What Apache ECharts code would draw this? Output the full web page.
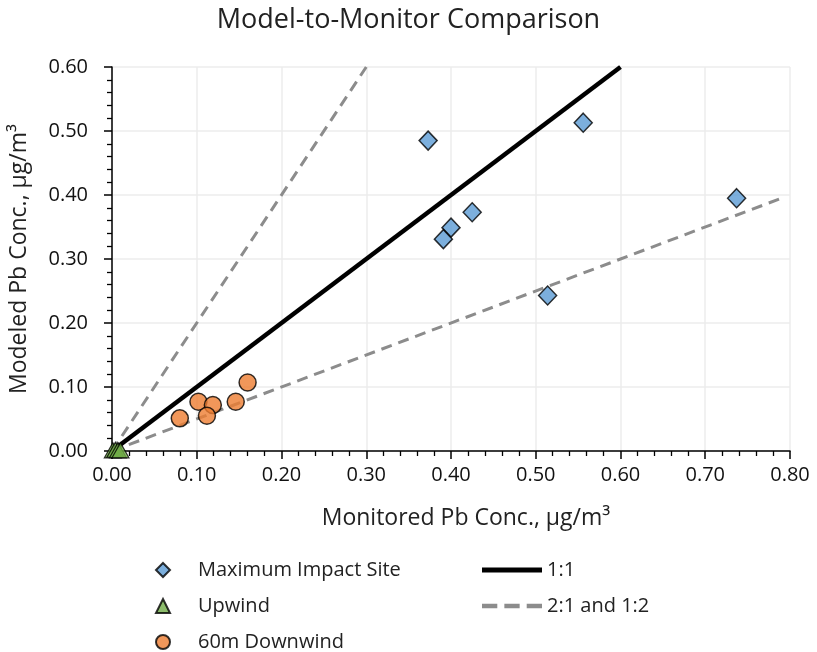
<!DOCTYPE html>
<html>
<head>
<meta charset="utf-8">
<script src="https://cdn.jsdelivr.net/npm/echarts@6/dist/echarts.min.js"></script>
<style>
  html, body { margin: 0; padding: 0; background: #fff; }
  #chart { width: 817px; height: 652px; }
</style>
</head>
<body>
<div id="chart"></div>
<script>
// monitored (x) vs modeled (y), ug/m3
var maxImpact = [[0.373, 0.485], [0.556, 0.513], [0.425, 0.373], [0.400, 0.349],
                 [0.391, 0.331], [0.514, 0.243], [0.737, 0.395]];
var upwind = [[0.001, 0.001], [0.004, 0.002], [0.007, 0.001], [0.010, 0.001]];
var downwind60 = [[0.080, 0.051], [0.102, 0.077], [0.119, 0.072], [0.112, 0.055],
                  [0.146, 0.077], [0.160, 0.107]];
var oneToOne = [[0, 0], [0.6, 0.6]];
var twoToOne = [[0, 0], [0.3, 0.6]];
var oneToTwo = [[0, 0], [0.79, 0.395]];

var fontName = 'Open Sans';
var textColor = '#222';
var labelFmt = function (v) { return v.toFixed(2); };

var myChart = echarts.init(document.getElementById('chart'));

var option = {
    animation: false,
    title: {
        text: 'Model-to-Monitor Comparison',
        left: 'center',
        top: 2,
        textStyle: { fontFamily: fontName, fontSize: 27, fontWeight: 'normal', color: textColor }
    },
    grid: { left: 112, right: 27, top: 67, bottom: 201, containLabel: false },
    legend: [{
        data: [
            { name: 'Maximum Impact Site', icon: 'diamond' },
            { name: 'Upwind', icon: 'triangle' },
            { name: '60m Downwind', icon: 'circle' }
        ],
        orient: 'vertical',
        left: 155,
        top: 560,
        padding: 0,
        itemWidth: 14,
        itemHeight: 14,
        itemGap: 16,
        textStyle: { fontFamily: fontName, fontSize: 20, lineHeight: 20, color: textColor, padding: [0, 0, 0, 23] }
    }, {
        data: [
            { name: '1:1', icon: 'rect' },
            { name: '2:1 and 1:2', icon: 'path://M0,0H13V4H0Z M19,0H32V4H19Z M38,0H51V4H38Z' }
        ],
        orient: 'vertical',
        left: 482,
        top: 560,
        padding: 0,
        itemWidth: 60,
        itemHeight: 5,
        itemGap: 16,
        itemStyle: { borderWidth: 0 },
        textStyle: { fontFamily: fontName, fontSize: 20, lineHeight: 20, color: textColor }
    }],
    xAxis: {
        type: 'value',
        min: 0,
        max: 0.8,
        interval: 0.1,
        name: 'Monitored Pb Conc., \u00b5g/m\u00b3',
        nameLocation: 'middle',
        nameGap: 56,
        nameTextStyle: { fontFamily: fontName, fontSize: 23, color: textColor, padding: [0, 0, 0, 30] },
        axisLine: { lineStyle: { color: '#000', width: 1.5 } },
        axisTick: { show: true, length: 8, lineStyle: { color: '#000', width: 1.5 } },
        minorTick: { show: true, splitNumber: 5, length: 5, lineStyle: { color: '#000', width: 1.3 } },
        axisLabel: { formatter: labelFmt, fontFamily: fontName, fontSize: 20, color: '#111', margin: 14 },
        splitLine: { show: true, lineStyle: { color: '#ececec', width: 1.5 } }
    },
    yAxis: {
        type: 'value',
        min: 0,
        max: 0.6,
        interval: 0.1,
        name: 'Modeled Pb Conc., \u00b5g/m\u00b3',
        nameLocation: 'middle',
        nameGap: 81,
        nameTextStyle: { fontFamily: fontName, fontSize: 23, color: textColor },
        axisLine: { show: true, lineStyle: { color: '#000', width: 1.5 } },
        axisTick: { show: true, length: 8, lineStyle: { color: '#000', width: 1.5 } },
        minorTick: { show: true, splitNumber: 5, length: 5, lineStyle: { color: '#000', width: 1.3 } },
        axisLabel: { formatter: labelFmt, fontFamily: fontName, fontSize: 20, color: '#111', margin: 24 },
        splitLine: { show: true, lineStyle: { color: '#ececec', width: 1.5 } }
    },
    series: [{
        name: '2:1 and 1:2',
        type: 'line',
        data: twoToOne,
        symbol: 'none',
        lineStyle: { color: '#8c8c8c', width: 3, type: [11, 7] },
        itemStyle: { color: '#8c8c8c' },
        z: 1
    }, {
        name: '2:1 and 1:2',
        type: 'line',
        data: oneToTwo,
        symbol: 'none',
        lineStyle: { color: '#8c8c8c', width: 3, type: [11, 7] },
        itemStyle: { color: '#8c8c8c' },
        z: 1
    }, {
        name: '1:1',
        type: 'line',
        data: oneToOne,
        symbol: 'none',
        lineStyle: { color: '#000', width: 4.5 },
        itemStyle: { color: '#000' },
        z: 2
    }, {
        name: 'Maximum Impact Site',
        type: 'scatter',
        data: maxImpact,
        symbol: 'diamond',
        symbolSize: [18, 19],
        itemStyle: { color: '#5b9bd5', borderColor: '#000', borderWidth: 1.5 },
        z: 3
    }, {
        name: 'Upwind',
        type: 'scatter',
        data: upwind,
        symbol: 'triangle',
        symbolSize: [17, 15],
        itemStyle: { color: '#70ad47', borderColor: '#000', borderWidth: 1.2 },
        z: 3
    }, {
        name: '60m Downwind',
        type: 'scatter',
        data: downwind60,
        symbol: 'circle',
        symbolSize: 17,
        itemStyle: { color: '#ed7d31', borderColor: '#000', borderWidth: 1.5 },
        z: 3
    }]
};

myChart.setOption(option);
</script>
</body>
</html>
